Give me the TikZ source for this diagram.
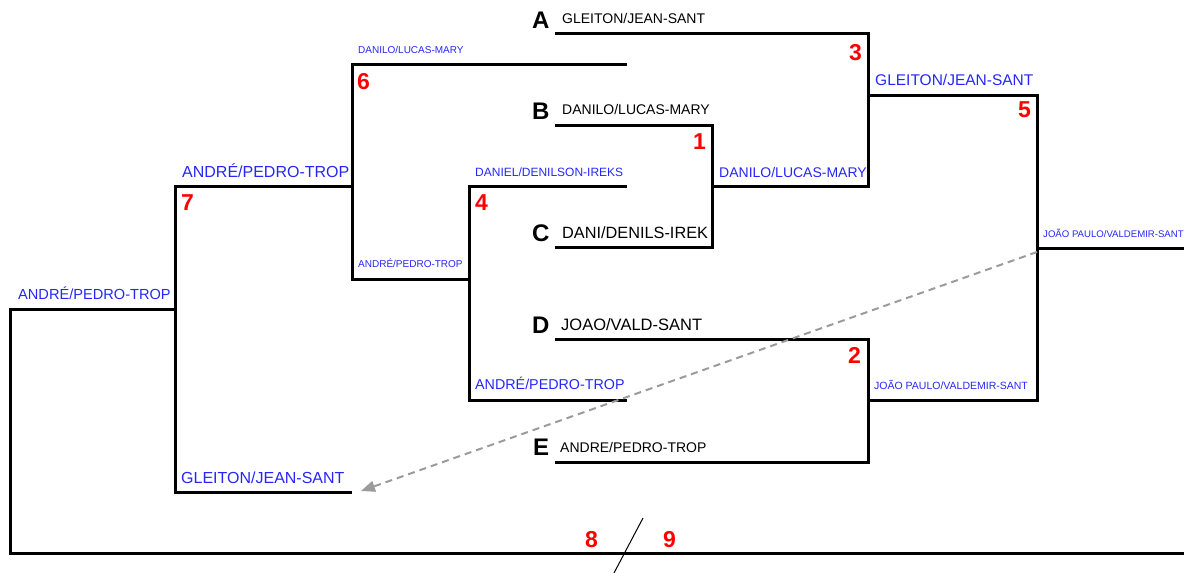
\documentclass[tikz,border=0pt]{standalone}
\usepackage{fontspec}
\setmainfont{Liberation Sans}
\usetikzlibrary{arrows.meta}
\definecolor{winner}{RGB}{38,38,250}
\definecolor{hint}{RGB}{155,155,155}
\tikzset{
	x=1pt, y=-1pt,
	bracket/.style={line width=3pt, line join=miter},
	pair/.style={anchor=base west, inner sep=0pt, font=\fontsize{#1}{#1}\selectfont},
	pick/.style={pair=#1, text=winner},
	seed/.style={anchor=base west, inner sep=0pt, font=\bfseries\fontsize{24}{24}\selectfont},
	game/.style={anchor=base west, inner sep=0pt, text=red, font=\bfseries\fontsize{23}{23}\selectfont},
	move/.style={hint, line width=2pt, dash pattern=on 7pt off 5pt, -{Triangle[length=14pt,width=11pt]}},
}

\begin{document}
\begin{tikzpicture}
	\useasboundingbox (0,0) rectangle (1184,573);

	% first round slots
	\coordinate (a0) at (555,33);   \coordinate (a1) at (868,33);
	\coordinate (b0) at (555,125);  \coordinate (b1) at (712,125);
	\coordinate (c0) at (555,247);  \coordinate (c1) at (712,247);
	\coordinate (d0) at (555,339);  \coordinate (d1) at (868,339);
	\coordinate (e0) at (555,462);  \coordinate (e1) at (868,462);
	% winners
	\coordinate (w1) at (712,186);  \coordinate (w1e) at (868,186);
	\coordinate (w3) at (868,95);   \coordinate (w3e) at (1037,95);
	\coordinate (w2) at (868,400);  \coordinate (w2e) at (1037,400);
	\coordinate (w5) at (1037,248); \coordinate (w5e) at (1184,248);
	% losers side
	\coordinate (l6) at (627,64);   \coordinate (l6a) at (352,64);
	\coordinate (l6b) at (352,279); \coordinate (l4o) at (469,279);
	\coordinate (l4) at (627,186);  \coordinate (l4a) at (469,186);
	\coordinate (l4b) at (469,400); \coordinate (l4e) at (627,400);
	\coordinate (l7a) at (352,186); \coordinate (l7) at (175,186);
	\coordinate (l7b) at (175,492); \coordinate (l7e) at (352,492);
	\coordinate (f0) at (175,309);  \coordinate (f1) at (10,309);
	\coordinate (f2) at (10,553);   \coordinate (f3) at (1184,553);
	\coordinate (cut0) at (643,518); \coordinate (cut1) at (614,573);
	\coordinate (from5) at (1037,252); \coordinate (to7) at (361,491);

	\draw[bracket] (a0) -- (a1) -- (w1e) -- (w1);
	\draw[bracket] (b0) -- (b1) -- (c1) -- (c0);
	\draw[bracket] (d0) -- (d1) -- (e1) -- (e0);
	\draw[bracket] (w3) -- (w3e) -- (w2e) -- (w2);
	\draw[bracket] (w5) -- (w5e);
	\draw[bracket] (l6) -- (l6a) -- (l6b) -- (l4o);
	\draw[bracket] (l4) -- (l4a) -- (l4b) -- (l4e);
	\draw[bracket] (l7a) -- (l7) -- (l7b) -- (l7e);
	\draw[bracket] (f0) -- (f1) -- (f2) -- (f3);
	\draw[line width=1pt] (cut0) -- (cut1);
	\draw[move] (from5) -- (to7);

	% seeds
	\node[seed] (sa) at (532,28) {A};
	\node[seed] (sb) at (532,119) {B};
	\node[seed] (sc) at (532,241) {C};
	\node[seed] (sd) at (532,333) {D};
	\node[seed] (se) at (533,455) {E};
	\node[pair=14] (pa) at (562,23) {GLEITON/JEAN-SANT};
	\node[pair=14] (pb) at (562,114) {DANILO/LUCAS-MARY};
	\node[pair=16.3] (pc) at (562,238) {DANI/DENILS-IREK};
	\node[pair=16.5] (pd) at (561,330) {JOAO/VALD-SANT};
	\node[pair=14] (pe) at (560,452) {ANDRE/PEDRO-TROP};

	% game numbers
	\node[game] (g1) at (693,149) {1};
	\node[game] (g2) at (848,363) {2};
	\node[game] (g3) at (849,60) {3};
	\node[game] (g4) at (475,210) {4};
	\node[game] (g5) at (1018,117) {5};
	\node[game] (g6) at (357,89) {6};
	\node[game] (g7) at (181,210) {7};
	\node[game] (g8) at (585,547) {8};
	\node[game] (g9) at (663,547) {9};

	% results
	\node[pick=14] (r1) at (719,177) {DANILO/LUCAS-MARY};
	\node[pick=10.5] (r2) at (874,389) {JOÃO PAULO/VALDEMIR-SANT};
	\node[pick=15.5] (r3) at (875,85) {GLEITON/JEAN-SANT};
	\node[pick=12] (r4t) at (475,176) {DANIEL/DENILSON-IREKS};
	\node[pick=14.3] (r4b) at (475,389) {ANDRÉ/PEDRO-TROP};
	\node[pick=9.6] (r5) at (1043,237) {JOÃO PAULO/VALDEMIR-SANT};
	\node[pick=10] (r6t) at (358,53) {DANILO/LUCAS-MARY};
	\node[pick=10] (r6b) at (358,267) {ANDRÉ/PEDRO-TROP};
	\node[pick=16] (r7t) at (182,177) {ANDRÉ/PEDRO-TROP};
	\node[pick=16] (r7b) at (181,483) {GLEITON/JEAN-SANT};
	\node[pick=14.6] (r8) at (18,299) {ANDRÉ/PEDRO-TROP};
\end{tikzpicture}
\end{document}
